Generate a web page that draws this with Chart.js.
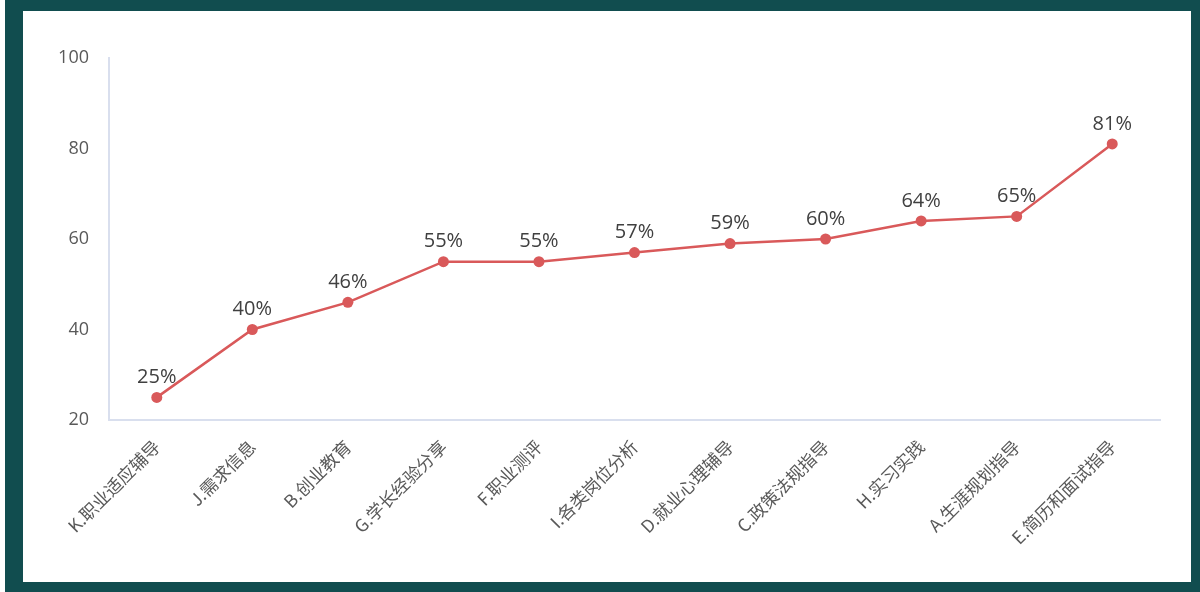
<!DOCTYPE html>
<html>
<head>
<meta charset="utf-8">
<script src="https://cdn.jsdelivr.net/npm/chart.js@4/dist/chart.umd.min.js"></script>
<style>
  html, body { margin: 0; padding: 0; }
  body { width: 1200px; height: 592px; background: #fff; position: relative; overflow: hidden; }
  .frame { position: absolute; left: 5px; top: 0; width: 1195px; height: 592px; background: #114d4f; }
  .card { position: absolute; left: 23px; top: 11px; width: 1168px; height: 571px; background: #fff; }
</style>
</head>
<body>
<div class="frame"></div>
<div class="card"><canvas id="lineChart" width="1168" height="571"></canvas></div>
<script>
  // categories and values (sorted ascending)
  const categories = [
    'K.职业适应辅导', 'J.需求信息', 'B.创业教育', 'G.学长经验分享', 'F.职业测评',
    'I.各类岗位分析', 'D.就业心理辅导', 'C.政策法规指导', 'H.实习实践', 'A.生涯规划指导', 'E.简历和面试指导'
  ];
  const percentValues = [25, 40, 46, 55, 55, 57, 59, 60, 64, 65, 81];
  const yTicks = [20, 40, 60, 80, 100];

  const lineColor = '#d9595a';

  // draw "xx%" above each point
  const pointLabels = {
    id: 'pointLabels',
    afterDatasetsDraw(chart) {
      const ctx = chart.ctx;
      const meta = chart.getDatasetMeta(0);
      ctx.save();
      ctx.font = '20px "Open Sans", sans-serif';
      ctx.fillStyle = '#404040';
      ctx.textAlign = 'center';
      ctx.textBaseline = 'bottom';
      meta.data.forEach((pt, i) => {
        ctx.fillText(percentValues[i] + '%', pt.x, pt.y - 10);
      });
      ctx.restore();
    }
  };

  const ctx = document.getElementById('lineChart').getContext('2d');
  const chart = new Chart(ctx, {
    type: 'line',
    data: {
      labels: categories,
      datasets: [{
        data: percentValues,
        borderColor: lineColor,
        backgroundColor: lineColor,
        borderWidth: 2.5,
        pointRadius: 5.5,
        pointHoverRadius: 5.5,
        pointBackgroundColor: lineColor,
        pointBorderWidth: 0,
        tension: 0
      }]
    },
    options: {
      responsive: false,
      animation: false,
      layout: { padding: { top: 47, right: 31, left: 0, bottom: 0 } },
      plugins: {
        legend: { display: false },
        tooltip: { enabled: false }
      },
      scales: {
        x: {
          offset: true,
          grid: { display: false, drawTicks: false },
          border: { color: '#d9dfee', width: 2 },
          ticks: {
            autoSkip: false,
            maxRotation: 45,
            minRotation: 45,
            padding: 16,
            color: '#595959',
            font: { family: '"Noto Sans CJK SC", sans-serif', size: 17.5 }
          },
          afterFit(scale) { scale.height = 162; }
        },
        y: {
          min: 20,
          max: 100,
          afterBuildTicks(scale) { scale.ticks = yTicks.map(v => ({ value: v })); },
          grid: { display: false, drawTicks: false },
          border: { color: '#d9dfee', width: 2 },
          ticks: {
            padding: 20,
            color: '#595959',
            font: { family: '"Open Sans", sans-serif', size: 18 }
          },
          afterFit(scale) { scale.width = 86; }
        }
      }
    },
    plugins: [pointLabels]
  });
</script>
</body>
</html>
